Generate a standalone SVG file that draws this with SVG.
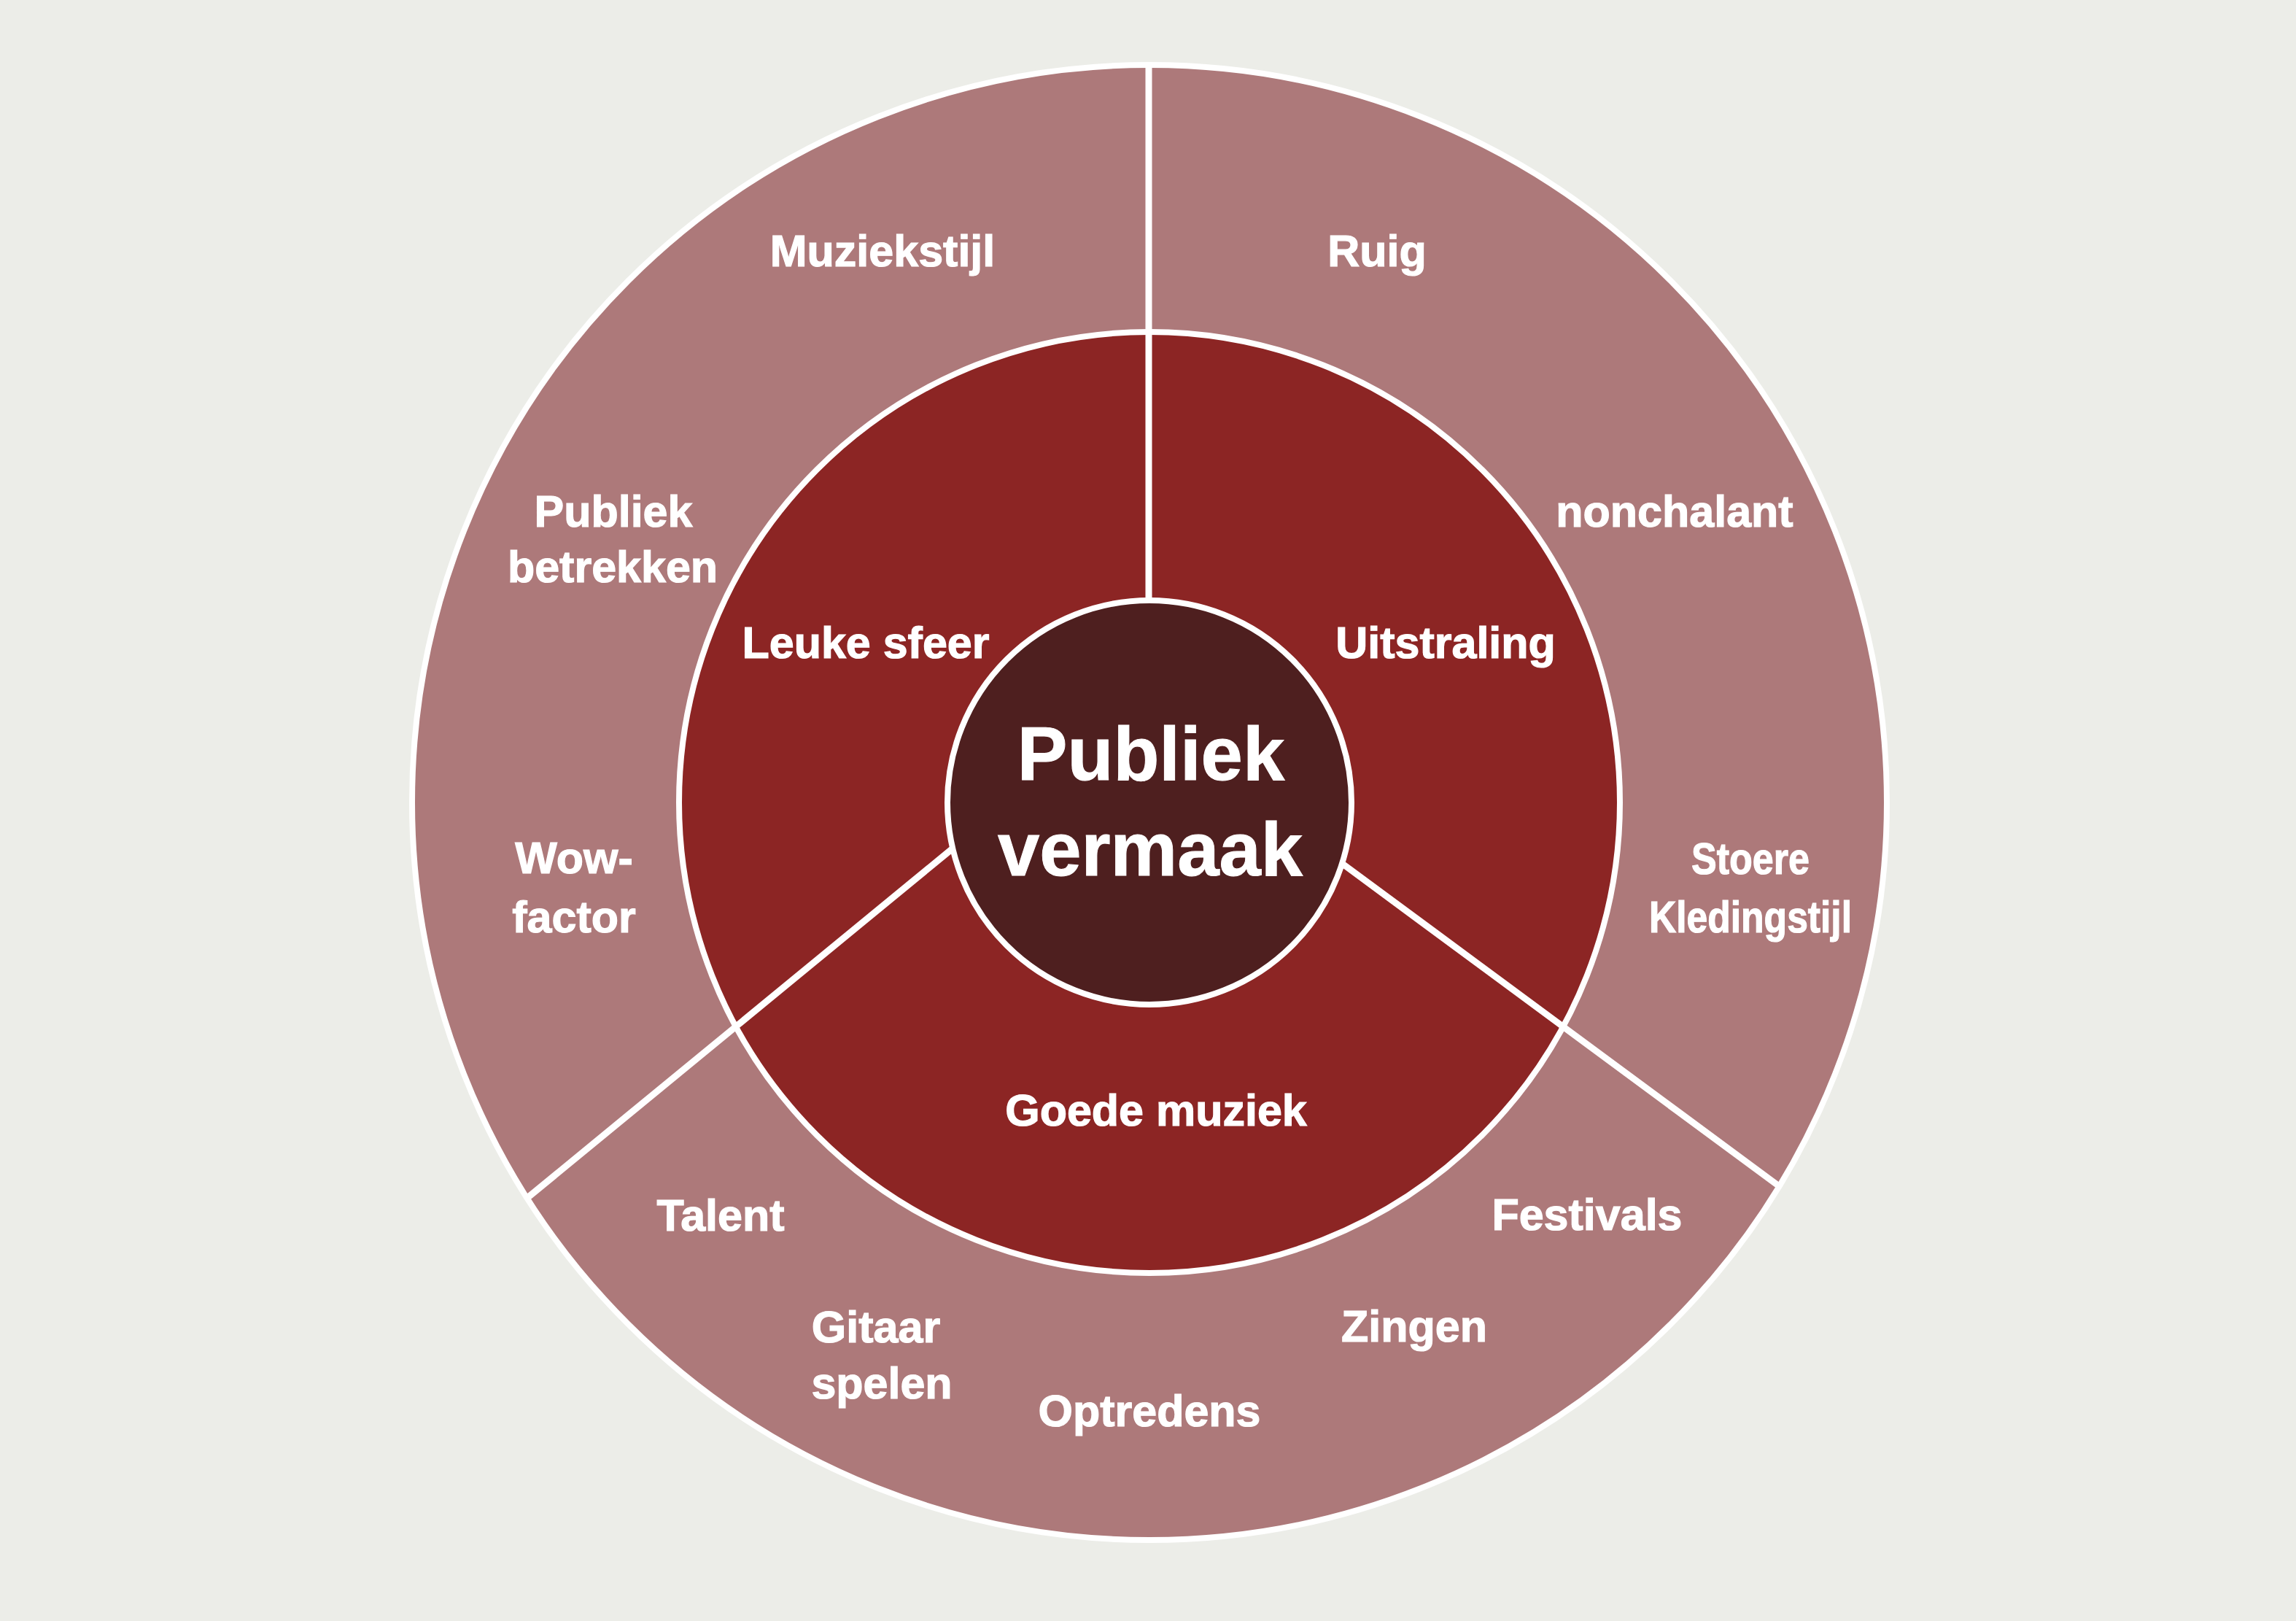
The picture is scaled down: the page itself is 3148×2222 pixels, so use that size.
<svg xmlns="http://www.w3.org/2000/svg" width="3148" height="2222" viewBox="0 0 3148 2222">
  <style>
    .ring { stroke: #ffffff; stroke-width: 8; }
    .divider { stroke: #ffffff; stroke-width: 9; stroke-linecap: butt; fill: none; }
    .lbl { font-family: "Liberation Sans", Arial, sans-serif; font-weight: bold; font-size: 61px; fill: #ffffff; stroke: #ffffff; stroke-width: 1.2; text-anchor: middle; }
    .core-lbl { font-family: "Liberation Sans", Arial, sans-serif; font-weight: bold; font-size: 103px; fill: #ffffff; stroke: #ffffff; stroke-width: 1; text-anchor: middle; }
  </style>

  <rect x="0" y="0" width="3148" height="2222" fill="#ECEDE8"/>

  <!-- outer ring: associations -->
  <g id="ring-outer">
    <circle class="ring" cx="1576" cy="1100" r="1011" fill="#AD797A"/>
  </g>

  <!-- middle ring: themes -->
  <g id="ring-middle">
    <circle class="ring" cx="1576" cy="1100" r="645" fill="#8C2524"/>
  </g>

  <!-- dividers between the three sectors -->
  <g id="connectors">
    <line class="divider" x1="1575" y1="88" x2="1575" y2="826"/>
    <line class="divider" x1="1305" y1="1164" x2="723" y2="1642"/>
    <line class="divider" x1="1842" y1="1185" x2="2438" y2="1625"/>
  </g>

  <!-- core -->
  <g id="core">
    <circle class="ring" cx="1576" cy="1100" r="277" fill="#4E1F1F"/>
    <text class="core-lbl" x="1578" y="1069">Publiek</text>
    <text class="core-lbl" x="1577" y="1200">vermaak</text>
  </g>

  <!-- theme labels -->
  <g id="theme-leuke-sfeer"><text class="lbl" x="1187" y="902">Leuke sfeer</text></g>
  <g id="theme-uitstraling"><text class="lbl" x="1982" y="902">Uitstraling</text></g>
  <g id="theme-goede-muziek"><text class="lbl" x="1585" y="1543">Goede muziek</text></g>

  <!-- association labels -->
  <g id="item-muziekstijl"><text class="lbl" x="1210" y="365">Muziekstijl</text></g>
  <g id="item-ruig"><text class="lbl" x="1888" y="365">Ruig</text></g>
  <g id="item-publiek-betrekken">
    <text class="lbl" x="841" y="722">Publiek</text>
    <text class="lbl" x="840" y="798">betrekken</text>
  </g>
  <g id="item-nonchalant"><text class="lbl" x="2296" y="722">nonchalant</text></g>
  <g id="item-wow-factor">
    <text class="lbl" x="787" y="1197">Wow-</text>
    <text class="lbl" x="787" y="1278">factor</text>
  </g>
  <g id="item-stoere-kledingstijl">
    <text class="lbl" x="2400" y="1198" textLength="162" lengthAdjust="spacingAndGlyphs">Stoere</text>
    <text class="lbl" x="2400" y="1278" textLength="278" lengthAdjust="spacingAndGlyphs">Kledingstijl</text>
  </g>
  <g id="item-talent"><text class="lbl" x="988" y="1687">Talent</text></g>
  <g id="item-festivals"><text class="lbl" x="2176" y="1686">Festivals</text></g>
  <g id="item-gitaar-spelen">
    <text class="lbl" x="1201" y="1840">Gitaar</text>
    <text class="lbl" x="1209" y="1917">spelen</text>
  </g>
  <g id="item-zingen"><text class="lbl" x="1939" y="1839">Zingen</text></g>
  <g id="item-optredens"><text class="lbl" x="1576" y="1955">Optredens</text></g>
</svg>
